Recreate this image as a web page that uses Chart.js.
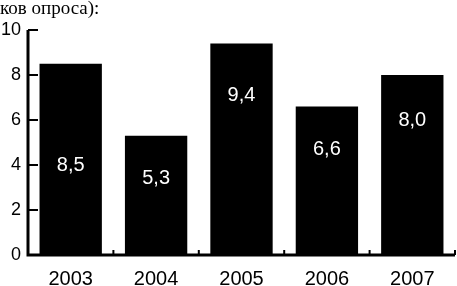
<!DOCTYPE html>
<html>
<head>
<meta charset="utf-8">
<script src="https://cdn.jsdelivr.net/npm/chart.js@4"></script>
<style>
  body { margin: 0; background: #fff; }
  canvas { display: block; }
</style>
</head>
<body>
<canvas id="chart" width="457" height="286"></canvas>
<script>
const years = ['2003', '2004', '2005', '2006', '2007'];
const shares = [8.5, 5.3, 9.4, 6.6, 8.0];
const valueLabels = ['8,5', '5,3', '9,4', '6,6', '8,0'];
// where each label sits, in axis units
const labelAt = [4.0, 3.4, 7.1, 4.7, 6.0];
const yTicks = [0, 2, 4, 6, 8, 10];
const headText = 'ков опроса):';

const axesPlugin = {
  id: 'axesPlugin',
  afterDatasetsDraw(chart) {
    const ctx = chart.ctx;
    const x = chart.scales.x;
    const y = chart.scales.y;
    const area = chart.chartArea;
    ctx.save();
    ctx.strokeStyle = '#000';
    ctx.lineWidth = 3;
    ctx.beginPath();
    ctx.moveTo(area.left, y.getPixelForValue(10));
    ctx.lineTo(area.left, y.getPixelForValue(0));
    ctx.lineTo(area.right, y.getPixelForValue(0));
    ctx.stroke();
    ctx.lineWidth = 2;
    ctx.beginPath();
    yTicks.forEach(v => {
      const py = y.getPixelForValue(v);
      ctx.moveTo(area.left, py);
      ctx.lineTo(area.left + 10, py);
    });
    const half = (x.getPixelForValue(1) - x.getPixelForValue(0)) / 2;
    years.forEach((_, i) => {
      const px = x.getPixelForValue(i) + half;
      ctx.moveTo(px, area.bottom);
      ctx.lineTo(px, area.bottom - 5);
    });
    ctx.stroke();

    ctx.fillStyle = '#fff';
    ctx.font = '20px "Liberation Sans", Arial, sans-serif';
    ctx.textAlign = 'center';
    ctx.textBaseline = 'middle';
    valueLabels.forEach((t, i) => {
      ctx.fillText(t, x.getPixelForValue(i), y.getPixelForValue(labelAt[i]));
    });

    ctx.fillStyle = '#000';
    ctx.font = '19px "Liberation Serif", "Times New Roman", serif';
    ctx.textAlign = 'left';
    ctx.textBaseline = 'alphabetic';
    ctx.fillText(headText, 0, 14);
    ctx.restore();
  }
};

new Chart(document.getElementById('chart'), {
  type: 'bar',
  data: {
    labels: years,
    datasets: [{
      data: shares,
      backgroundColor: '#000',
      borderWidth: 0,
      categoryPercentage: 1,
      barPercentage: 0.73
    }]
  },
  options: {
    responsive: false,
    animation: false,
    layout: { padding: { top: 30, right: 2, left: 0, bottom: 0 } },
    plugins: { legend: { display: false }, tooltip: { enabled: false } },
    scales: {
      x: {
        grid: { display: false, drawTicks: false },
        border: { display: false },
        ticks: {
          color: '#000',
          padding: 12,
          maxRotation: 0,
          font: { family: '"Liberation Sans", Arial, sans-serif', size: 20 }
        },
        afterFit(scale) { scale.height = 31; }
      },
      y: {
        min: 0,
        max: 10,
        afterBuildTicks(scale) { scale.ticks = yTicks.map(v => ({ value: v })); },
        grid: { display: false, drawTicks: false },
        border: { display: false },
        ticks: {
          color: '#000',
          padding: 7,
          font: { family: '"Liberation Sans", Arial, sans-serif', size: 18 }
        },
        afterFit(scale) { scale.width = 28; }
      }
    }
  },
  plugins: [axesPlugin]
});
</script>
</body>
</html>
